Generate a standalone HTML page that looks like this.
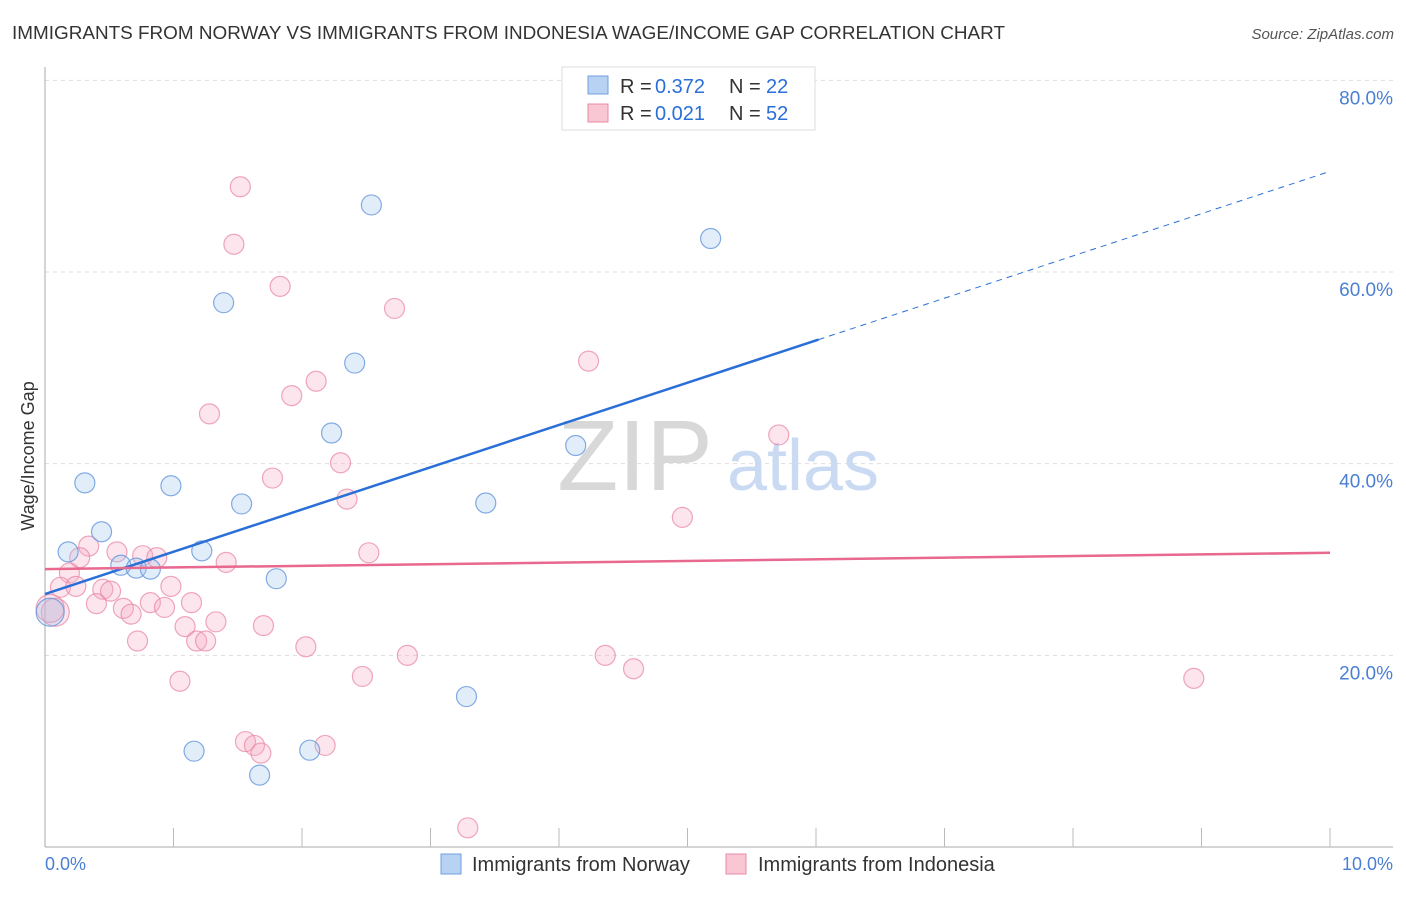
<!DOCTYPE html>
<html><head><meta charset="utf-8"><style>
body{margin:0;background:#fff;font-family:"Liberation Sans",sans-serif;}
svg text{font-family:"Liberation Sans",sans-serif;}
</style></head><body>
<svg id="chart" width="1406" height="892" viewBox="0 0 1406 892" xmlns="http://www.w3.org/2000/svg">
<text x="12" y="39" font-size="18" fill="#333" textLength="993" lengthAdjust="spacingAndGlyphs">IMMIGRANTS FROM NORWAY VS IMMIGRANTS FROM INDONESIA WAGE/INCOME GAP CORRELATION CHART</text>
<text x="1394" y="39" font-size="15" fill="#555" font-style="italic" text-anchor="end">Source: ZipAtlas.com</text>
<g id="grid"></g>
<g>
<text x="635" y="490" font-size="100" fill="#d8d8d8" font-family="Liberation Serif" text-anchor="middle">ZIP</text>
<text x="803" y="490" font-size="72" fill="#c9daf2" text-anchor="middle">atlas</text>
</g>
<line x1="45" y1="67" x2="45" y2="847" stroke="#aaa"/>
<line x1="45" y1="847" x2="1393" y2="847" stroke="#aaa"/>
<g id="xticks"></g>
<g id="points"></g>
<g id="lines"></g>
<text x="34" y="456" font-size="18" fill="#333" text-anchor="middle" transform="rotate(-90 34 456)">Wage/Income Gap</text>
<text x="45" y="870" font-size="18" fill="#4a7fd4">0.0%</text>
<text x="1393" y="870" font-size="18" fill="#4a7fd4" text-anchor="end">10.0%</text>
<g>
<rect x="562" y="67" width="253" height="63" fill="#fff" stroke="#ddd"/>
<rect x="588" y="76" width="20" height="18" fill="#b8d2f4" stroke="#6f9fe0"/>
<rect x="588" y="104" width="20" height="18" fill="#f9c6d4" stroke="#e88aa6"/>
<text x="620" y="93" font-size="20" fill="#333">R =</text>
<text x="655" y="93" font-size="20" fill="#2a6fd8">0.372</text>
<text x="729" y="93" font-size="20" fill="#333">N =</text>
<text x="766" y="93" font-size="20" fill="#2a6fd8">22</text>
<text x="620" y="120" font-size="20" fill="#333">R =</text>
<text x="655" y="120" font-size="20" fill="#2a6fd8">0.021</text>
<text x="729" y="120" font-size="20" fill="#333">N =</text>
<text x="766" y="120" font-size="20" fill="#2a6fd8">52</text>
</g>
<g>
<rect x="441" y="854" width="20" height="20" fill="#b8d2f4" stroke="#6f9fe0"/>
<text x="472" y="871" font-size="20" fill="#333">Immigrants from Norway</text>
<rect x="726" y="854" width="20" height="20" fill="#f9c6d4" stroke="#e88aa6"/>
<text x="758" y="871" font-size="20" fill="#333">Immigrants from Indonesia</text>
</g>
</svg>
<script>
const yTicks=[20,40,60,80];
const yTickLabels=["20.0%","40.0%","60.0%","80.0%"];
const xTickCount=10;
const norwayX=[0.18,0.31,0.44,0.59,0.71,0.82,0.98,1.22,1.39,1.53,1.80,2.23,2.41,2.54,3.43,4.13,5.18,3.28,1.16,1.67,2.06,0.04];
const norwayY=[30.8,38.0,32.9,29.4,29.1,29.0,37.7,30.9,56.8,35.8,28.0,43.2,50.5,67.0,35.9,41.9,63.5,15.7,10.0,7.5,10.1,24.5];
const indoX=[1.52,1.47,1.83,2.72,4.23,1.92,2.11,1.28,2.30,1.77,2.35,5.71,4.96,0.34,0.56,0.76,0.87,1.41,2.52,0.19,0.12,0.24,0.45,0.51,0.98,0.40,0.61,0.67,0.82,0.93,1.14,1.09,1.33,1.70,0.72,1.18,1.25,2.03,2.82,4.36,4.58,8.94,2.47,1.05,1.56,1.63,1.68,2.18,3.29,0.27,0.08,0.04];
const indoY=[68.9,62.9,58.5,56.2,50.7,47.1,48.6,45.2,40.1,38.5,36.3,43.0,34.4,31.4,30.8,30.4,30.2,29.7,30.7,28.6,27.1,27.2,26.9,26.7,27.2,25.4,24.9,24.3,25.5,25.0,25.5,23.0,23.5,23.1,21.5,21.5,21.5,20.9,20.0,20.0,18.6,17.6,17.8,17.3,11.0,10.6,9.8,10.6,2.0,30.2,24.5,24.9];
const norwayTrend=[26.4,70.5];
const indoTrend=[29.0,30.7];
const NS="http://www.w3.org/2000/svg";
const sx=v=>45+v*128.5;
const sy=v=>847-v*9.583;
function mk(tag,attrs,parent){const e=document.createElementNS(NS,tag);for(const k in attrs)e.setAttribute(k,attrs[k]);parent.appendChild(e);return e;}
const grid=document.getElementById('grid');
yTicks.forEach((t,i)=>{
 const l=mk('line',{x1:45,x2:1393,y1:sy(t),y2:sy(t),stroke:'#ddd','stroke-dasharray':'4,4'},grid);
 
 
 const tx=mk('text',{x:1393,y:sy(t)+24,'font-size':19,fill:'#4a7fd4','text-anchor':'end'},grid);
 tx.textContent=yTickLabels[i];
 
 
});
const xt=document.getElementById('xticks');
for(let k=1;k<=xTickCount;k++){
 const l=mk('line',{x1:sx(k*10/xTickCount),x2:sx(k*10/xTickCount),y1:828,y2:847,stroke:'#bbb'},xt);
 
 
}
const pts=document.getElementById('points');
indoX.forEach((x,i)=>{
 const c=mk('circle',{cx:sx(x),cy:sy(indoY[i]),r:(i>=50)?14:10,fill:'rgba(245,170,195,0.3)',stroke:'rgba(232,130,160,0.7)','stroke-width':1.2},pts);
 
 
});
norwayX.forEach((x,i)=>{
 const c=mk('circle',{cx:sx(x),cy:sy(norwayY[i]),r:(i==21)?14:10,fill:'rgba(160,195,240,0.3)',stroke:'rgba(100,150,220,0.8)','stroke-width':1.2},pts);
 
 
});
const ln=document.getElementById('lines');
const nAt=x=>norwayTrend[0]+(norwayTrend[1]-norwayTrend[0])*x/10;
const a=mk('line',{x1:sx(0),y1:sy(nAt(0)),x2:sx(6.02),y2:sy(nAt(6.02)),stroke:'#2a6fd8','stroke-width':2.5},ln);


const b=mk('line',{x1:sx(6.02),y1:sy(nAt(6.02)),x2:sx(10),y2:sy(nAt(10)),stroke:'#2a6fd8','stroke-width':1,'stroke-dasharray':'6,5'},ln);


const c2=mk('line',{x1:sx(0),y1:sy(indoTrend[0]),x2:sx(10),y2:sy(indoTrend[1]),stroke:'#e8688f','stroke-width':2.5},ln);


</script>
</body></html>
